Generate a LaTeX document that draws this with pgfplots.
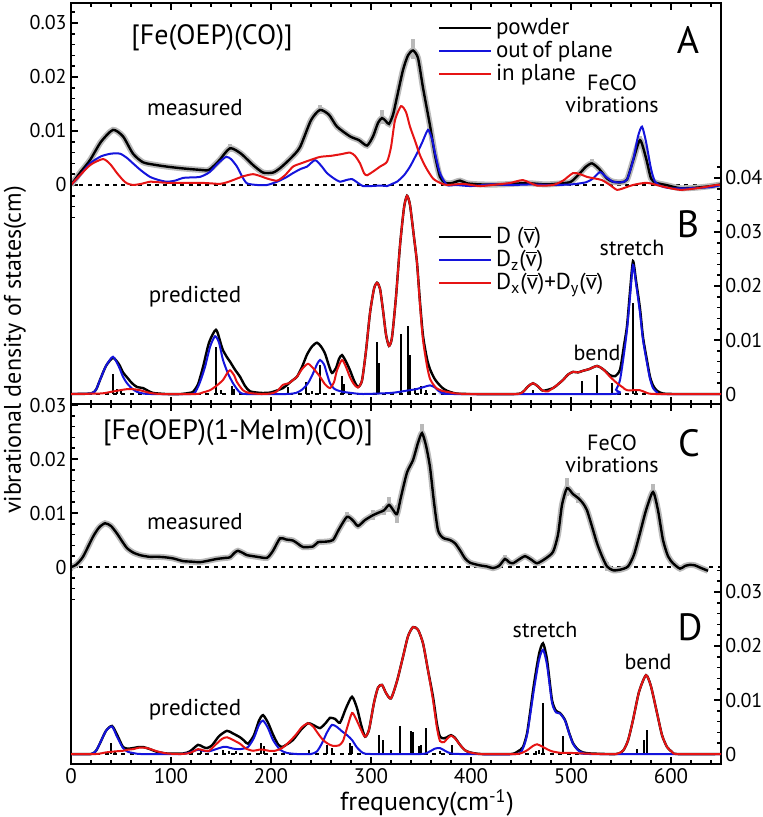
\documentclass[border=0pt]{standalone}
\usepackage{fontspec}
\setmainfont{PT Sans}
\usepackage{pgfplots}
\pgfplotsset{compat=1.18}
\definecolor{myblue}{RGB}{20,20,220}
\definecolor{myred}{RGB}{230,20,20}
\definecolor{mygrey}{RGB}{185,185,185}
\newcommand\vb{$\overline{\mbox{v}}$}

\pgfplotsset{
 common/.style={
   scale only axis, width=325pt, xmin=0, xmax=650,
   axis line style={line width=1pt},
   tick style={line width=0.8pt, black},
   major tick length=3.5pt, minor tick length=2pt,
   tick align=inside,
   xticklabel style={font=\fontsize{10.5}{12}\selectfont, inner sep=2pt},
   yticklabel style={font=\fontsize{10}{12}\selectfont, inner sep=2pt},
   /pgf/number format/assume math mode=true,
   xtick={0,100,...,600}, minor xtick={0,20,...,640},
   clip=true,
 },
 zero/.style={black, line width=0.8pt, dash pattern=on 2pt off 2.2pt},
 blk/.style={black, line width=1.2pt, smooth, tension=0.4},
 blu/.style={myblue, line width=1pt, smooth, tension=0.4},
 rd/.style={myred, line width=1pt, smooth, tension=0.4},
 gry/.style={mygrey, line width=3pt, smooth, tension=0.4},
 spk/.style={draw=none, mark=none, forget plot, error bars/.cd, y dir=both, y explicit,
   error bar style={mygrey, line width=2pt}, error mark=none},
 stick/.style={black, line width=0.9pt, ycomb, mark=none},
 leg/.style={legend style={draw=none, fill=none, font=\fontsize{11.5}{12}\selectfont,
   row sep=-2.2pt, inner sep=0pt, outer sep=0pt, legend cell align=left,
   nodes={inner sep=2pt}},
   legend image code/.code={\draw[##1, line width=1pt] (0pt,0pt) -- (26pt,0pt);}},
}

\begin{document}
\begin{tikzpicture}
\useasboundingbox (0pt,0pt) rectangle (381pt,-408.5pt);

% ---------------- Panel A ----------------
\begin{axis}[common, at={(35.5pt,-202pt)}, anchor=south west, height=200.5pt,
  ymin=-40.56, ymax=33.70, ytick={0,10,20,30}, yticklabels={0,0.01,0.02,0.03},
  minor ytick={-6,-4,-2,2,4,6,8,12,14,16,18,22,24,26,28,32}, ytick pos=left,
  xticklabels={}, leg,
  legend style={at={(axis cs:367,31.6)}, anchor=north west}]
\addplot[zero, forget plot] coordinates {(0,0) (650,0)};
\addplot[gry, forget plot] coordinates {
(0,0) (10,2.5) (19,4.6) (30,8.0) (42,10.2) (52,9.0) (62,5.8) (72,4.2) (85,3.7) (96,3.4) (110,3.1) (129,2.8) (138,2.8) (148,4.5) (159,6.8) (170,5.8) (182,3.7) (192,2.3) (202,2.3) (209,3.1) (220,5.0) (229,7.0) (240,12.0) (249,13.9) (258,13.0) (266,10.8) (279,9.0) (288,8.3) (296,7.3) (302,9.0) (307,11.5) (311,12.4) (315,11.8) (318,11.3) (322,13.0) (326,16.3) (332,21.3) (337,24.0) (342,24.9) (347,23.5) (352,18.0) (359,11.0) (364,5.5) (369,1.5) (374,0.4) (380,0.3) (389,0.8) (396,0.3) (410,0.1) (430,0.1) (450,0.3) (460,0.3) (475,0.1) (490,0.3) (500,0.6) (509,2.2) (515,3.4) (521,4.0) (528,3.0) (536,1.2) (542,0.6) (550,0.5) (556,1.0) (562,4.5) (569,8.3) (575,5.0) (580,1.2) (585,0.4) (595,0.0) (609,-0.6) (625,-0.5) (640,-0.2) (650,0.1)};
\addplot[spk] coordinates {(311,12.6) +- (0,1.3) (342,25.2) +- (0,1.8) (249,14.0) +- (0,0.9) (159,6.9) +- (0,0.7) (521,4.1) +- (0,0.8) (569,8.4) +- (0,0.7) (305,10.5) +- (0,0.8) (389,0.8) +- (0,0.5)};
\addplot[blk] coordinates {
(0,0) (10,2.5) (19,4.6) (30,8.0) (42,10.2) (52,9.0) (62,5.8) (72,4.2) (85,3.7) (96,3.4) (110,3.1) (129,2.8) (138,2.8) (148,4.5) (159,6.8) (170,5.8) (182,3.7) (192,2.3) (202,2.3) (209,3.1) (220,5.0) (229,7.0) (240,12.0) (249,13.9) (258,13.0) (266,10.8) (279,9.0) (288,8.3) (296,7.3) (302,9.0) (307,11.5) (311,12.4) (315,11.8) (318,11.3) (322,13.0) (326,16.3) (332,21.3) (337,24.0) (342,24.9) (347,23.5) (352,18.0) (359,11.0) (364,5.5) (369,1.5) (374,0.4) (380,0.3) (389,0.8) (396,0.3) (410,0.1) (430,0.1) (450,0.3) (460,0.3) (475,0.1) (490,0.3) (500,0.6) (509,2.2) (515,3.4) (521,4.0) (528,3.0) (536,1.2) (542,0.6) (550,0.5) (556,1.0) (562,4.5) (569,8.3) (575,5.0) (580,1.2) (585,0.4) (595,0.0) (609,-0.6) (625,-0.5) (640,-0.2) (650,0.1)};
\addlegendentry{powder}
\addplot[blu] coordinates {
(0,0) (10,2.0) (19,4.0) (30,5.3) (40,5.8) (49,5.8) (56,5.0) (62,4.0) (70,2.7) (79,1.5) (88,0.9) (96,0.6) (104,0.8) (112,1.3) (120,1.4) (129,1.5) (138,2.3) (147,4.0) (155,5.2) (160,4.8) (166,3.4) (171,1.6) (176,0.3) (186,0.0) (196,0.0) (206,0.6) (215,1.4) (222,2.2) (230,3.0) (236,3.4) (244,4.6) (250,3.6) (256,2.2) (263,1.2) (269,0.6) (275,0.9) (281,1.1) (286,0.5) (292,-0.2) (300,-0.2) (310,-0.1) (316,-0.2) (321,0.2) (326,0.6) (333,1.8) (339,3.4) (345,5.5) (351,7.8) (357,10.2) (361,8.5) (364,5.9) (369,2.2) (376,0.0) (385,0.0) (400,-0.2) (420,0.1) (440,0.0) (460,0.1) (480,0.0) (500,0.1) (515,0.5) (522,1.2) (529,2.4) (535,1.5) (542,0.6) (550,0.5) (556,1.0) (562,4.5) (567,9.0) (571,10.8) (575,8.0) (580,3.0) (584,0.6) (590,-0.2) (599,-0.6) (620,-0.6) (640,-0.4) (650,0.0)};
\addlegendentry{out\,of plane}
\addplot[rd] coordinates {
(0,0) (10,2.0) (20,3.8) (32,4.8) (39,3.9) (46,2.2) (52,0.9) (56,0.3) (62,0.0) (70,0.2) (79,0.6) (88,0.5) (96,0.4) (110,0.4) (129,0.4) (140,0.3) (149,0.2) (156,0.5) (162,0.9) (172,1.6) (182,2.0) (190,1.6) (196,1.2) (206,0.8) (214,1.8) (222,3.4) (230,4.0) (239,4.6) (249,5.2) (260,5.4) (270,5.7) (279,6.0) (284,5.4) (289,4.0) (293,2.2) (296,1.8) (303,2.6) (309,3.4) (316,4.3) (320,7.0) (324,12.0) (330,14.6) (335,13.5) (339,10.8) (344,8.2) (349,5.5) (355,3.2) (362,1.2) (369,0.4) (376,0.0) (392,0.2) (409,-0.2) (426,0.1) (440,0.4) (452,0.9) (466,-0.1) (482,0.0) (492,0.8) (502,2.2) (509,2.0) (516,1.5) (524,1.2) (531,0.9) (539,0.0) (546,-0.9) (554,-0.5) (562,0.0) (576,0.4) (592,-0.3) (609,-0.9) (626,-0.6) (646,0.0) (650,0.0)};
\addlegendentry{in plane}
\end{axis}

% ---------------- Panel B ----------------
\begin{axis}[common, at={(35.5pt,-202pt)}, anchor=south west, height=200.5pt,
  ymin=-1.85, ymax=72.4, ytick={0,10,20,30,40}, yticklabels={0,0.01,0.02,0.03,0.04},
  minor ytick={2,4,...,42}, ytick pos=right, xtick=\empty, leg,
  legend style={at={(axis cs:367,31.6)}, anchor=north west}]
\addplot[zero, forget plot] coordinates {(0,0) (650,0)};
\addplot[stick, forget plot] coordinates {
(41.7,3.7) (46,1.0) (50,0.5) (145,8.7) (150,0.8) (161,1.4) (163,1.0) (217,1.3) (235,2.2) (241,0.6) (249,5.4) (271,3.3) (273,1.9) (306,9.7) (308,5.8) (330,11.1) (337,12.6) (339,7.2) (344,1.2) (350,1.5) (355,0.8) (462,0.7) (511,2.4) (526,3.5) (541,2.0) (562,16.8) (565,1.0)};
\addplot[blk] coordinates {
(0,0) (20,0.1) (25,0.8) (29,2.6) (35,5.2) (42,6.7) (48,5.5) (52,4.0) (56,3.1) (61,2.0) (66,1.3) (72,1.1) (77,0.6) (82,0.2) (95,0.0) (110,0.0) (118,0.2) (122,0.4) (127,1.8) (132,5.0) (138,9.5) (145,11.9) (150,9.2) (152,8.1) (156,6.8) (159,6.0) (164,4.5) (169,3.2) (174,1.5) (179,0.5) (190,0.2) (200,0.3) (212,1.1) (218,2.0) (222,2.6) (226,3.2) (231,5.0) (236,7.3) (241,8.8) (246,9.5) (250,8.8) (254,7.5) (258,5.2) (261,3.9) (265,4.8) (268,6.5) (271,7.2) (275,6.0) (279,4.4) (283,2.5) (287,1.3) (291,2.5) (295,8.0) (299,15.0) (303,19.5) (306,20.6) (309,19.5) (312,15.5) (315,11.0) (318,8.9) (321,10.5) (325,18.0) (329,27.5) (333,34.5) (336,36.7) (339,35.0) (343,29.0) (346,24.3) (349,17.0) (352,10.8) (356,6.5) (359,4.6) (363,3.0) (366,2.2) (371,1.2) (376,0.6) (385,0.1) (400,0.0) (445,0.0) (452,0.4) (457,1.4) (462,2.0) (467,1.4) (472,0.6) (482,1.1) (487,1.8) (492,2.6) (497,3.6) (502,4.1) (507,4.0) (512,4.3) (518,4.6) (526,5.2) (532,4.6) (539,3.5) (544,3.3) (549,4.5) (553,9.0) (556,12.6) (559,19.0) (562,24.6) (565,21.0) (569,15.8) (572,10.5) (576,6.2) (579,3.2) (582,1.6) (586,0.6) (592,0.1) (605,0.0) (650,0.0)};
\addlegendentry{D (\vb)}
\addplot[blu] coordinates {
(0,0) (20,0.1) (25,0.8) (29,2.6) (35,5.2) (42,6.9) (48,5.0) (52,3.2) (56,2.0) (61,1.0) (66,0.4) (72,0.1) (80,0.0) (120,0.0) (125,0.6) (129,2.2) (134,5.0) (139,8.7) (144,10.7) (148,9.5) (152,6.3) (157,3.8) (162,2.0) (166,0.9) (169,0.3) (175,0.0) (215,0.0) (225,0.2) (231,0.8) (237,2.0) (242,3.8) (246,5.5) (249,6.3) (253,5.5) (256,3.7) (259,2.0) (263,1.0) (266,0.7) (272,0.4) (280,0.2) (292,0.0) (320,0.2) (335,0.6) (345,0.9) (353,1.3) (359,1.6) (364,1.2) (368,0.5) (375,0.1) (385,0.0) (540,0.0) (545,0.8) (549,2.6) (553,7.5) (556,11.9) (559,18.0) (562,23.9) (565,20.5) (569,15.0) (572,10.0) (576,5.7) (579,2.8) (582,1.1) (586,0.3) (590,0.0) (650,0.0)};
\addlegendentry{D\textsubscript{z}(\vb)}
\addplot[rd] coordinates {
(0,0) (30,0.1) (40,0.4) (49,0.7) (56,0.9) (62,0.9) (69,0.7) (79,0.2) (90,0.0) (125,0.0) (132,0.3) (139,0.7) (146,1.6) (152,2.6) (156,3.8) (159,4.4) (163,3.5) (166,2.2) (172,0.7) (178,0.2) (190,0.0) (200,0.1) (206,0.5) (212,1.7) (218,2.0) (222,2.6) (226,3.2) (231,4.6) (237,5.6) (243,4.6) (249,3.2) (254,1.8) (259,1.1) (263,2.2) (266,4.4) (271,6.3) (275,5.0) (279,3.1) (283,1.8) (287,1.2) (291,2.5) (295,8.0) (299,15.0) (303,19.5) (306,20.6) (309,19.5) (312,15.5) (315,11.0) (318,8.9) (321,10.5) (325,18.0) (329,27.5) (333,34.5) (336,36.7) (339,35.0) (343,29.0) (346,24.3) (349,16.5) (352,10.0) (356,5.2) (359,2.8) (363,1.6) (366,1.0) (371,0.6) (376,0.4) (385,0.1) (400,0.0) (445,0.0) (452,0.4) (457,1.4) (462,2.0) (467,1.4) (472,0.6) (477,0.5) (482,1.1) (487,1.8) (492,2.6) (497,3.6) (502,4.1) (507,4.0) (512,4.3) (518,4.6) (526,5.2) (532,4.6) (539,3.2) (546,2.0) (552,1.2) (556,0.7) (569,0.7) (576,0.2) (585,0.0) (650,0.0)};
\addlegendentry{D\textsubscript{x}(\vb)+D\textsubscript{y}(\vb)}
\end{axis}

% ---------------- Panel C ----------------
\begin{axis}[common, at={(35.5pt,-382pt)}, anchor=south west, height=180pt,
  ymin=-36.48, ymax=30.19, ytick={0,10,20,30}, yticklabels={0,0.01,0.02,0.03},
  minor ytick={-6,-4,-2,2,4,6,8,12,14,16,18,22,24,26,28}, ytick pos=left]
\addplot[zero] coordinates {(0,0) (650,0)};
\addplot[gry] coordinates {
(0,0) (5,0.4) (12,1.9) (22,5.6) (28,7.3) (34,8.1) (40,7.6) (46,6.2) (51,4.8) (56,3.5) (62,2.7) (69,2.2) (78,1.9) (86,1.9) (94,1.8) (102,1.6) (112,1.1) (120,1.0) (129,0.9) (138,1.2) (146,1.5) (155,1.7) (159,1.8) (164,2.7) (167,3.0) (172,2.6) (176,2.2) (186,1.9) (196,1.7) (202,3.0) (209,5.3) (215,5.1) (222,4.9) (227,4.3) (232,3.7) (242,3.8) (247,4.6) (255,4.7) (262,5.0) (268,7.0) (276,9.3) (282,8.6) (287,7.6) (294,8.7) (302,9.6) (308,10.1) (313,10.5) (318,11.5) (322,10.6) (326,9.8) (330,13.0) (336,17.5) (342,19.8) (347,23.0) (351,24.8) (355,22.5) (359,18.5) (363,12.0) (367,6.8) (372,5.4) (379,5.0) (384,4.4) (389,3.1) (394,1.6) (399,0.8) (409,0.3) (416,0.1) (422,-0.2) (428,0.2) (434,1.5) (438,0.9) (442,0.7) (448,1.4) (454,2.0) (460,1.4) (466,0.7) (474,1.5) (482,2.8) (487,6.0) (491,11.5) (496,14.6) (502,13.5) (507,12.8) (512,11.8) (516,10.5) (521,7.5) (526,4.4) (531,2.0) (536,0.1) (542,-0.6) (549,-0.5) (557,0.1) (563,2.3) (569,6.3) (575,10.5) (582,13.9) (587,10.5) (592,5.0) (597,2.0) (602,0.7) (609,-0.3) (614,0.2) (619,0.4) (624,0.3) (629,-0.1) (637,-0.7)};
\addplot[spk] coordinates {(351,25.0) +- (0,1.4) (318,11.6) +- (0,1.4) (326,9.8) +- (0,1.6) (496,14.8) +- (0,1.6) (582,14.0) +- (0,1.3) (302,9.6) +- (0,0.9) (276,9.3) +- (0,0.9) (507,12.8) +- (0,1.0) (536,0.1) +- (0,0.9) (434,1.5) +- (0,0.8) (0,0) +- (0,0.8) (313,10.5) +- (0,0.8)};
\addplot[blk] coordinates {
(0,0) (5,0.4) (12,1.9) (22,5.6) (28,7.3) (34,8.1) (40,7.6) (46,6.2) (51,4.8) (56,3.5) (62,2.7) (69,2.2) (78,1.9) (86,1.9) (94,1.8) (102,1.6) (112,1.1) (120,1.0) (129,0.9) (138,1.2) (146,1.5) (155,1.7) (159,1.8) (164,2.7) (167,3.0) (172,2.6) (176,2.2) (186,1.9) (196,1.7) (202,3.0) (209,5.3) (215,5.1) (222,4.9) (227,4.3) (232,3.7) (242,3.8) (247,4.6) (255,4.7) (262,5.0) (268,7.0) (276,9.3) (282,8.6) (287,7.6) (294,8.7) (302,9.6) (308,10.1) (313,10.5) (318,11.5) (322,10.6) (326,9.8) (330,13.0) (336,17.5) (342,19.8) (347,23.0) (351,24.8) (355,22.5) (359,18.5) (363,12.0) (367,6.8) (372,5.4) (379,5.0) (384,4.4) (389,3.1) (394,1.6) (399,0.8) (409,0.3) (416,0.1) (422,-0.2) (428,0.2) (434,1.5) (438,0.9) (442,0.7) (448,1.4) (454,2.0) (460,1.4) (466,0.7) (474,1.5) (482,2.8) (487,6.0) (491,11.5) (496,14.6) (502,13.5) (507,12.8) (512,11.8) (516,10.5) (521,7.5) (526,4.4) (531,2.0) (536,0.1) (542,-0.6) (549,-0.5) (557,0.1) (563,2.3) (569,6.3) (575,10.5) (582,13.9) (587,10.5) (592,5.0) (597,2.0) (602,0.7) (609,-0.3) (614,0.2) (619,0.4) (624,0.3) (629,-0.1) (637,-0.7)};
\end{axis}

% ---------------- Panel D ----------------
\begin{axis}[common, at={(35.5pt,-382pt)}, anchor=south west, height=180pt,
  ymin=-1.85, ymax=64.8, ytick={0,10,20,30}, yticklabels={0,0.01,0.02,0.03},
  minor ytick={2,4,...,34}, ytick pos=right, xtick=\empty]
\addplot[zero] coordinates {(0,0) (650,0)};
\addplot[stick] coordinates {
(40,2.0) (44,0.5) (130,0.6) (152,0.8) (158,0.6) (165,0.5) (190,2.0) (193,1.5) (238,0.8) (256,1.6) (261,1.2) (279,2.0) (281,1.5) (308,3.6) (312,2.6) (320,0.7) (329,5.2) (340,4.3) (342,4.1) (348,1.5) (350,1.7) (355,4.8) (369,0.6) (381,1.6) (465,0.5) (468,0.7) (472,9.4) (492,3.4) (566,1.0) (573,2.6) (576,4.4)};
\addplot[blk] coordinates {
(0,0) (20,0.0) (25,0.6) (29,2.0) (35,4.3) (41,5.2) (46,3.6) (52,1.3) (57,1.0) (62,1.1) (68,1.3) (72,1.3) (79,0.9) (86,0.4) (96,0.1) (112,0.1) (119,0.5) (127,1.7) (132,1.3) (136,1.1) (141,1.6) (148,3.3) (156,4.3) (162,3.8) (169,3.1) (173,2.5) (177,1.9) (183,3.5) (188,6.2) (192,7.2) (197,5.8) (202,3.6) (207,1.8) (211,1.3) (216,1.8) (222,2.6) (230,4.5) (237,5.7) (242,5.4) (249,4.8) (255,5.8) (259,6.7) (264,6.5) (269,5.8) (275,8.5) (281,10.6) (286,8.5) (290,5.5) (294,3.2) (298,4.5) (303,9.5) (307,12.3) (311,12.8) (315,11.3) (320,10.3) (326,13.5) (332,18.0) (337,21.8) (342,23.5) (347,23.0) (352,20.5) (357,15.5) (362,10.6) (366,5.5) (369,3.2) (373,2.9) (376,3.1) (380,3.5) (384,3.0) (389,1.7) (394,0.7) (399,0.3) (410,0.0) (440,0.0) (447,0.5) (452,1.3) (456,3.8) (459,7.6) (463,13.0) (468,18.5) (472,20.5) (476,17.5) (481,10.0) (485,8.0) (489,7.6) (494,6.3) (498,4.0) (502,2.0) (507,0.8) (512,0.3) (520,0.1) (545,0.0) (552,0.6) (557,2.5) (562,6.3) (568,11.5) (575,14.6) (580,12.5) (586,7.6) (591,3.5) (596,1.3) (601,0.4) (606,0.0) (650,0.0)};
\addplot[blu] coordinates {
(0,0) (20,0.0) (25,0.6) (29,2.0) (35,4.3) (41,5.1) (46,3.2) (52,1.1) (57,0.4) (62,0.2) (70,0.0) (110,0.0) (119,0.3) (127,0.8) (132,0.6) (138,0.5) (145,0.9) (152,1.3) (156,1.3) (162,1.0) (169,0.9) (177,1.3) (183,3.0) (188,5.4) (192,6.2) (197,4.8) (202,2.6) (209,0.8) (216,0.2) (226,0.0) (240,0.0) (246,0.5) (251,2.0) (256,4.0) (261,5.4) (266,5.0) (271,4.2) (276,3.5) (281,2.6) (286,1.2) (292,0.2) (300,0.0) (350,0.0) (358,0.4) (364,1.0) (369,1.1) (374,0.6) (380,0.1) (390,0.0) (445,0.0) (452,1.1) (456,3.5) (459,7.0) (463,12.0) (468,17.4) (472,19.3) (476,16.5) (481,9.5) (485,7.7) (489,7.5) (494,6.2) (498,3.9) (502,1.9) (507,0.7) (512,0.2) (520,0.0) (650,0.0)};
\addplot[rd] coordinates {
(0,0) (25,0.0) (35,0.3) (45,0.5) (52,0.6) (57,0.8) (62,0.9) (69,1.2) (76,1.1) (86,0.5) (96,0.1) (110,0.0) (119,0.2) (127,0.9) (132,0.7) (138,0.6) (145,1.8) (151,2.8) (156,3.1) (162,2.6) (169,1.9) (175,1.0) (182,0.6) (188,0.8) (192,0.8) (198,0.6) (204,0.6) (211,1.1) (218,2.2) (225,3.6) (231,5.0) (237,5.7) (242,5.1) (247,3.8) (252,2.6) (257,1.9) (262,1.5) (268,1.6) (272,2.4) (276,4.8) (281,7.6) (285,6.5) (290,4.5) (294,3.2) (298,4.5) (303,9.5) (307,12.3) (311,12.8) (315,11.3) (320,10.3) (326,13.5) (332,18.0) (337,21.8) (342,23.5) (347,23.0) (352,20.5) (357,15.5) (362,10.0) (366,4.8) (369,2.4) (373,2.2) (376,2.8) (380,3.4) (384,2.9) (389,1.7) (394,0.7) (399,0.3) (410,0.0) (445,0.0) (452,0.3) (457,0.8) (462,1.5) (466,1.8) (471,1.4) (476,0.9) (481,0.5) (490,0.2) (500,0.2) (512,0.1) (530,0.0) (545,0.0) (552,0.6) (557,2.5) (562,6.3) (568,11.5) (575,14.6) (580,12.5) (586,7.6) (591,3.5) (596,1.3) (601,0.4) (606,0.0) (650,0.0)};
\end{axis}

% ---------------- Text ----------------
\begin{scope}[x=0.5pt, y=-0.5pt]
\node[font=\fontsize{14}{16}\selectfont] at (212,38) {[Fe(OEP)(CO)]};
\node[font=\fontsize{11.5}{13}\selectfont] at (195,108) {measured};
\node[font=\fontsize{19}{21}\selectfont] at (688,40) {A};
\node[font=\fontsize{11}{12}\selectfont, align=center] at (612,94) {FeCO\\[-1pt]vibrations};
\node[font=\fontsize{11.5}{13}\selectfont] at (195,297) {predicted};
\node[font=\fontsize{19}{21}\selectfont] at (688,224) {B};
\node[font=\fontsize{11}{13}\selectfont] at (632,248) {stretch};
\node[font=\fontsize{11}{13}\selectfont] at (597,353) {bend};
\node[font=\fontsize{14}{16}\selectfont] at (238,433) {[Fe(OEP)(1-MeIm)(CO)]};
\node[font=\fontsize{11.5}{13}\selectfont] at (195,522) {measured};
\node[font=\fontsize{19}{21}\selectfont] at (689,443) {C};
\node[font=\fontsize{11}{12}\selectfont, align=center] at (612,454) {FeCO\\[-1pt]vibrations};
\node[font=\fontsize{11.5}{13}\selectfont] at (195,710) {predicted};
\node[font=\fontsize{19}{21}\selectfont] at (690,627) {D};
\node[font=\fontsize{11}{13}\selectfont] at (545,630) {stretch};
\node[font=\fontsize{11}{13}\selectfont] at (648,662) {bend};
\node[font=\fontsize{12}{14}\selectfont, rotate=90, inner sep=0pt] at (15,350) {vibrational density of states(cm)};
\node[font=\fontsize{13}{15}\selectfont, inner sep=0pt] at (427,803) {frequency(cm\textsuperscript{-1})};
\end{scope}
\end{tikzpicture}
\end{document}
